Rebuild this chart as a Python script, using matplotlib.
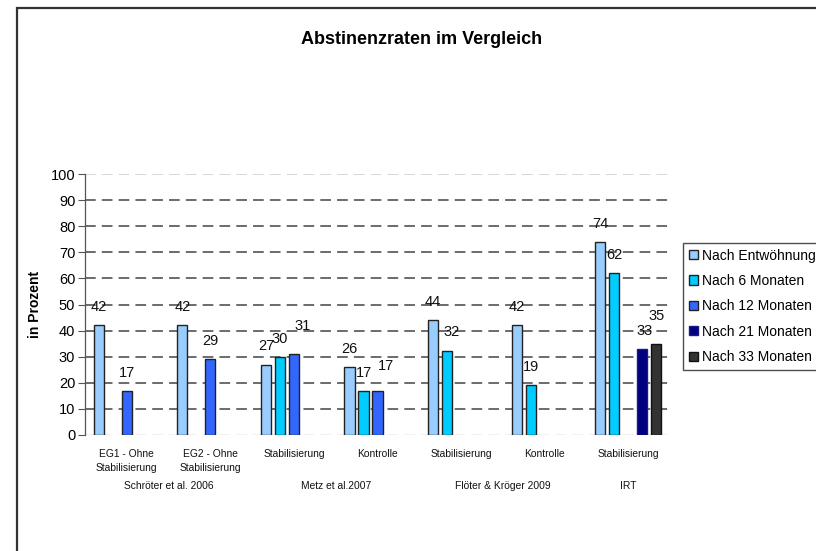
import matplotlib
matplotlib.use('Agg')
import matplotlib.pyplot as plt
from matplotlib.patches import Rectangle
import numpy as np

plt.rcParams['font.family'] = ['Liberation Sans', 'DejaVu Sans']

# data
groups = ['EG1 - Ohne\nStabilisierung', 'EG2 - Ohne\nStabilisierung', 'Stabilisierung',
          'Kontrolle', 'Stabilisierung', 'Kontrolle', 'Stabilisierung']
studies = ['Schröter et al. 2006', 'Metz et al.2007', 'Flöter & Kröger 2009', 'IRT']
study_span = [(0, 2), (2, 4), (4, 6), (6, 7)]
series = ['Nach Entwöhnung', 'Nach 6 Monaten', 'Nach 12 Monaten',
          'Nach 21 Monaten', 'Nach 33 Monaten']
nan = np.nan
entwoehnung = [42, 42, 27, 26, 44, 42, 74]
monate6 = [nan, nan, 30, 17, 32, 19, 62]
monate12 = [17, 29, 31, 17, nan, nan, nan]
monate21 = [nan, nan, nan, nan, nan, nan, 33]
monate33 = [nan, nan, nan, nan, nan, nan, 35]
values = [entwoehnung, monate6, monate12, monate21, monate33]

colors = ['#99CCFF', '#00CCFF', '#3366FF', '#000080', '#333333']
edges = ['#222222', '#222222', '#222222', '#1a1a80', '#111111']
# a few value labels sit higher / to the right in the original, key = (series, group)
nudge = {(2, 2): (6, 7), (2, 3): (6, 5), (4, 6): (0, 7), (1, 4): (3, 1),
         (3, 6): (2, 0)}

fig = plt.figure(figsize=(8.16, 5.51), dpi=100)
ax = fig.add_axes([85 / 816, 1 - 435 / 551, 585 / 816, 261 / 551])

slot = 0.1675
width = 0.12
x = np.arange(len(groups)) + 0.5
for j, (name, vals) in enumerate(zip(series, values)):
    xs = x + (j - 2) * slot
    ax.bar(xs, vals, width, color=colors[j], edgecolor=edges[j], linewidth=1.0,
           label=name, zorder=3)
    for i, v in enumerate(vals):
        if np.isnan(v):
            continue
        dx, dy = nudge.get((j, i), (0, 0))
        ax.annotate(str(int(v)), (xs[i], v), xytext=(dx, 13 + dy),
                    textcoords='offset points', ha='center', va='center',
                    fontsize=10.5, color='#111111', zorder=4)

ax.set_xlim(0, len(groups))
ax.set_ylim(0, 100)
ax.set_yticks(range(0, 101, 10))
ax.tick_params(axis='y', direction='out', length=5, width=0.8, color='#555555',
               labelsize=10.5, pad=2)
ax.set_xticks([])
for s in ['top', 'right', 'bottom']:
    ax.spines[s].set_visible(False)
ax.spines['left'].set_color('#555555')
ax.spines['left'].set_linewidth(0.9)

for yv in range(10, 100, 10):
    ax.axhline(yv, color='#444444', linewidth=1.1, dashes=(7, 4), zorder=1)
ax.axhline(100, color='#cccccc', linewidth=1.1, dashes=(7, 4), zorder=1)
ax.axhline(0, color='#eeeeee', linewidth=1.1, dashes=(7, 4), zorder=1)

for xi, g in zip(x, groups):
    ax.text(xi, -5.5, g, ha='center', va='top', fontsize=7.4,
            linespacing=1.5, color='#111111')
for (a, b), st in zip(study_span, studies):
    ax.text((a + b) / 2, -19.5, st, ha='center', va='center', fontsize=7.4,
            color='#111111')

ax.set_ylabel('in Prozent', fontsize=10, fontweight='bold', labelpad=6)

fig.text(422 / 816, 1 - 39 / 551, 'Abstinenzraten im Vergleich', ha='center',
         va='center', fontsize=13, fontweight='bold')

fig.legend(loc='upper left', bbox_to_anchor=(683 / 816, 1 - 243 / 551),
           fontsize=10, frameon=True, fancybox=False, edgecolor='#222222',
           handlelength=0.65, handleheight=0.65, handletextpad=0.35,
           labelspacing=0.82, borderpad=0.4, borderaxespad=0)

fig.patches.append(Rectangle((17 / 816, -0.1), 1.2, 1.1 - 8 / 551,
                             transform=fig.transFigure, fill=False,
                             edgecolor='#333333', linewidth=1.6))

plt.savefig('out.png', dpi=100)
plt.close()
